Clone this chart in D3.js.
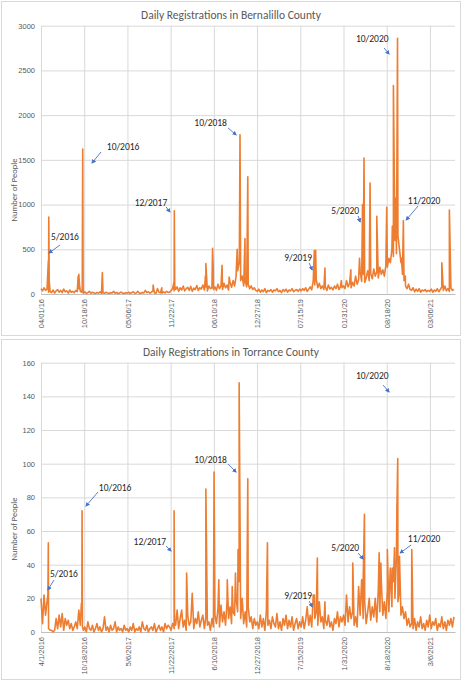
<!DOCTYPE html>
<html>
<head>
<meta charset="utf-8">
<script src="https://cdn.jsdelivr.net/npm/d3@7"></script>
<style>
  body { margin: 0; background: #fff; }
  svg { display: block; font-family: Carlito, Lato, "Open Sans", sans-serif; }
</style>
</head>
<body>
<svg id="chart" width="463" height="680"></svg>
<script>
// ---- data ----
var START_DATE = "2016-04-01";
var END_DATE = "2021-06-30";

var bernalilloTitle = "Daily Registrations in Bernalillo County";
var torranceTitle = "Daily Registrations in Torrance County";

var bernalilloTicks = ["04/01/16", "10/18/16", "05/06/17", "11/22/17", "06/10/18", "12/27/18", "07/15/19", "01/31/20", "08/18/20", "03/06/21"];
var torranceTicks = ["4/1/2016", "10/18/2016", "5/6/2017", "11/22/2017", "6/10/2018", "12/27/2018", "7/15/2019", "1/31/2020", "8/18/2020", "3/6/2021"];

var bernalilloYTicks = [0, 500, 1000, 1500, 2000, 2500, 3000];
var torranceYTicks = [0, 20, 40, 60, 80, 100, 120, 140, 160];

// background level, one reading per week from 4/1/2016
var bernalilloWeekly = [
  60, 35, 70, 40, 55, 20, 30,
  15, 45, 10, 35, 50, 20, 40, 15, 55, 25, 35, 10, 45, 20, 30, 15, 40, 25,
  60, 30, 20,
  10, 25, 5, 15, 30, 8, 20, 12, 5, 18, 10, 25, 6, 15, 8, 20, 10, 5, 15, 12, 30, 8, 18, 5, 12, 22, 10, 6, 15,
  10, 20, 5, 15, 25, 8, 12, 30, 10, 6, 18, 12, 40, 15, 25, 10, 20, 35, 12, 8, 60, 20, 15, 10, 25, 12, 30, 18,
  20, 40, 60, 35,
  50, 80, 30, 70, 45, 90, 35, 60, 75, 40, 85, 30, 65, 50, 95, 40, 70, 55, 100, 45, 80, 35, 90, 60, 70, 50,
  80, 40, 110, 60, 90, 50, 120, 70, 100, 45, 130, 75, 150, 90, 200, 260,
  350, 150, 200, 90, 140, 80, 110, 60, 90, 50, 70, 40,
  30, 55, 20, 45, 25, 60, 15, 40, 30, 50, 20, 45, 35, 60, 25, 40, 15, 50, 30, 55, 20, 45, 35, 60, 25, 40, 50, 30, 55,
  35, 60, 40, 70, 30, 55, 80, 45, 150, 100, 160, 70, 120, 60, 90, 50, 80, 40, 100, 55, 75, 45, 90, 60, 110, 50, 85, 70,
  90, 60, 150, 80, 120, 70, 130, 90, 200, 110, 160, 250, 140, 220, 130, 180, 260, 150, 230, 170, 280, 200, 250, 180, 300, 220, 270, 200, 320,
  300, 400, 350, 500, 420, 600, 450, 650, 500, 350, 220, 150,
  90, 60, 110, 50,
  40, 70, 25, 55, 30, 60, 20, 45, 35, 50, 25, 40, 30, 55, 20, 45, 30, 60, 25, 50, 80, 40, 90, 35, 60, 30, 70, 40, 50
];

// single days that stand out
var bernalilloPeaks = [
  ["2016-05-05", 370], ["2016-05-07", 860], ["2016-05-09", 150],
  ["2016-09-20", 200], ["2016-09-23", 220], ["2016-09-26", 110],
  ["2016-10-09", 80], ["2016-10-11", 1620], ["2016-10-13", 40],
  ["2017-01-10", 240], ["2017-09-02", 100], ["2017-10-12", 70],
  ["2017-12-07", 130], ["2017-12-09", 930], ["2017-12-11", 90],
  ["2018-05-02", 200], ["2018-05-04", 340],
  ["2018-06-04", 510], ["2018-06-07", 300],
  ["2018-07-18", 320], ["2018-08-20", 190],
  ["2018-09-22", 270], ["2018-09-26", 500], ["2018-10-06", 420], ["2018-10-09", 1780],
  ["2018-11-01", 620], ["2018-11-14", 1310],
  ["2019-09-18", 485], ["2019-09-24", 490], ["2019-11-06", 290],
  ["2020-01-21", 150], ["2020-03-05", 270],
  ["2020-04-14", 400], ["2020-04-28", 1000], ["2020-05-05", 1520],
  ["2020-06-02", 1240], ["2020-07-03", 870], ["2020-08-18", 970],
  ["2020-09-13", 760], ["2020-09-18", 2330], ["2020-09-29", 1070],
  ["2020-10-07", 2860], ["2020-10-25", 400], ["2020-11-03", 820], ["2020-11-12", 200],
  ["2021-04-30", 350], ["2021-06-04", 940]
];

var torranceWeekly = [
  20, 5, 22, 10, 18, 2, 1,
  1, 0, 1, 8, 2, 10, 3, 11, 1, 8, 4, 7, 2, 5, 1, 3, 6, 2,
  13, 4, 10,
  1, 3, 0, 6, 2, 1, 4, 0, 2, 5, 1, 3, 0, 2, 9, 1, 3, 0, 4, 1, 2, 6, 0, 3, 1, 2, 0, 4, 1,
  2, 0, 3, 1, 5, 0, 2, 1, 3, 0, 6, 2, 1, 4, 0, 2, 3, 1, 5, 0, 2, 4, 1, 3, 0, 5, 2, 4,
  3, 1, 5, 2,
  4, 13, 2, 8, 13, 3, 7, 1, 10, 4, 6, 23, 2, 8, 5, 12, 3, 7, 10, 2, 9, 4, 6, 1, 8, 3,
  10, 5, 14, 3, 16, 6, 12, 4, 18, 8, 15, 5, 12, 10, 20, 12,
  30, 8, 20, 5, 12, 3, 15, 6, 9, 2, 8, 4,
  6, 2, 10, 3, 8, 1, 12, 4, 7, 2, 9, 5, 3, 11, 2, 6, 1, 8, 4, 10, 2, 7, 3, 9, 1, 5, 8, 2, 6,
  3, 9, 2, 7, 15, 4, 10, 3, 22, 8, 12, 4, 18, 6, 9, 2, 7, 4, 10, 3, 6, 1, 8, 5, 12, 3, 9, 6,
  10, 4, 22, 6, 15, 8, 12, 4, 9, 3, 27, 10, 31, 8, 18, 5, 12, 20, 7, 15, 9, 20, 6, 25, 12, 30, 10, 18, 8,
  25, 12, 38, 15, 30, 20, 45, 18, 25, 10, 15, 8,
  12, 4, 8, 3,
  5, 2, 8, 1, 6, 3, 9, 2, 5, 1, 7, 3, 10, 2, 6, 4, 8, 1, 5, 3, 9, 2, 6, 1, 7, 4, 8, 3, 9
];

var torrancePeaks = [
  ["2016-05-03", 22], ["2016-05-05", 53], ["2016-05-07", 2],
  ["2016-10-05", 17], ["2016-10-08", 72], ["2016-10-10", 3],
  ["2017-12-06", 4], ["2017-12-08", 72], ["2017-12-10", 5],
  ["2018-02-04", 35], ["2018-05-04", 85], ["2018-06-11", 95],
  ["2018-07-03", 31], ["2018-08-11", 31], ["2018-09-03", 27],
  ["2018-09-18", 35], ["2018-09-30", 49], ["2018-10-05", 148],
  ["2018-11-14", 91], ["2019-02-13", 53],
  ["2019-09-18", 22], ["2019-10-02", 44], ["2019-11-06", 18],
  ["2020-03-14", 41],
  ["2020-04-26", 27], ["2020-05-01", 31], ["2020-05-07", 70],
  ["2020-07-14", 47], ["2020-07-22", 41], ["2020-08-21", 49],
  ["2020-09-03", 37], ["2020-09-13", 38], ["2020-09-23", 50],
  ["2020-10-04", 72], ["2020-10-08", 103], ["2020-10-16", 45],
  ["2020-12-12", 49]
];

// callouts: label, text anchor (date, value), arrow from, arrow to
var bernalilloNotes = [
  ["5/2016",  ["2016-07-21", 604],  ["2016-06-28", 548],  ["2016-05-08", 458]],
  ["10/2016", ["2017-04-16", 1610], ["2017-01-04", 1588], ["2016-11-23", 1465]],
  ["12/2017", ["2017-08-23", 984],  ["2017-11-01", 973],  ["2017-11-19", 917]],
  ["10/2018", ["2018-05-26", 1878], ["2018-08-15", 1856], ["2018-09-21", 1778]],
  ["9/2019",  ["2019-07-05", 369],  ["2019-08-25", 347],  ["2019-09-08", 268]],
  ["5/2020",  ["2020-02-08", 894],  ["2020-04-08", 872],  ["2020-04-17", 805]],
  ["10/2020", ["2020-06-12", 2817], ["2020-08-06", 2750], ["2020-08-29", 2683]],
  ["11/2020", ["2021-02-07", 1006], ["2021-01-10", 984],  ["2020-11-16", 827]]
];

var torranceNotes = [
  ["5/2016",  ["2016-07-16", 32.7], ["2016-05-31", 30.9], ["2016-05-03", 25]],
  ["10/2016", ["2017-03-10", 83.8], ["2016-12-21", 83.2], ["2016-10-26", 74.8]],
  ["12/2017", ["2017-08-18", 51.7], ["2017-11-01", 51.1], ["2017-11-24", 48.1]],
  ["10/2018", ["2018-05-26", 100.4], ["2018-08-15", 99.8], ["2018-09-21", 95]],
  ["9/2019",  ["2019-07-05", 19.6], ["2019-08-25", 18.4], ["2019-09-08", 14.9]],
  ["5/2020",  ["2020-02-08", 48.1], ["2020-04-08", 46.9], ["2020-05-01", 43.4]],
  ["10/2020", ["2020-06-12", 150.3], ["2020-08-01", 146.7], ["2020-08-29", 142.6]],
  ["11/2020", ["2021-02-07", 53.5], ["2020-12-09", 51.7], ["2020-10-19", 46.9]]
];

// ---- drawing ----
var parseDay = d3.timeParse("%Y-%m-%d");
var startDay = parseDay(START_DATE);
var svg = d3.select("#chart");

var defs = svg.append("defs");
defs.append("marker")
  .attr("id", "arrow")
  .attr("viewBox", "0 0 10 10")
  .attr("refX", 8).attr("refY", 5)
  .attr("markerWidth", 5).attr("markerHeight", 5)
  .attr("orient", "auto")
  .append("path")
  .attr("d", "M0,0 L10,5 L0,10 z")
  .attr("fill", "#4472C4");

function buildSeries(weekly, peaks){
  var pts = weekly.map(function(v, i){
    return {date: d3.timeDay.offset(startDay, i * 7), value: v};
  });
  peaks.forEach(function(p){
    pts.push({date: parseDay(p[0]), value: p[1]});
  });
  pts.sort(function(a, b){ return a.date - b.date; });
  return pts;
}

function drawPanel(cfg){
  var g = svg.append("g");
  // frame
  g.append("rect")
    .attr("x", 1.5).attr("y", cfg.boxTop + 0.5)
    .attr("width", 459).attr("height", cfg.boxHeight)
    .attr("fill", "#fff").attr("stroke", "#D9D9D9");

  var x = d3.scaleTime()
    .domain([parseDay(START_DATE), parseDay(END_DATE)])
    .range([41, 455]);
  var y = d3.scaleLinear()
    .domain([0, cfg.yTicks[cfg.yTicks.length - 1]])
    .range([cfg.bottom, cfg.top]);

  // y grid + labels
  var yAxis = g.append("g")
    .attr("transform", "translate(41,0)")
    .call(d3.axisLeft(y).tickValues(cfg.yTicks).tickFormat(d3.format("d"))
      .tickSize(-414).tickPadding(6));
  yAxis.select(".domain").remove();
  yAxis.selectAll("line").attr("stroke", "#D9D9D9");
  yAxis.selectAll("text").attr("fill", "#595959").style("font-size", "7.5px");

  // x grid + labels
  var tickDates = cfg.xTicks.map(function(t){ return cfg.parseTick(t); });
  var xAxis = g.append("g")
    .attr("transform", "translate(0," + cfg.bottom + ")")
    .call(d3.axisBottom(x).tickValues(tickDates)
      .tickFormat(function(d, i){ return cfg.xTicks[i]; })
      .tickSize(-(cfg.bottom - cfg.top)).tickSizeOuter(0));
  xAxis.select(".domain").attr("stroke", "#BFBFBF");
  xAxis.selectAll("line").attr("stroke", "#D9D9D9");
  xAxis.selectAll("text")
    .attr("fill", "#595959")
    .style("font-size", "7.5px")
    .attr("text-anchor", "end")
    .attr("transform", "rotate(-90)")
    .attr("x", -5).attr("y", 0).attr("dy", "0.35em");

  // series
  var series = buildSeries(cfg.weekly, cfg.peaks);
  var line = d3.line()
    .x(function(d){ return x(d.date); })
    .y(function(d){ return y(d.value); });
  g.append("path")
    .datum(series)
    .attr("d", line)
    .attr("fill", "none")
    .attr("stroke", "#ED7D31")
    .attr("stroke-width", 1.6)
    .attr("stroke-linejoin", "round");

  // title
  g.append("text")
    .attr("x", 231).attr("y", cfg.titleY)
    .attr("text-anchor", "middle")
    .attr("fill", "#595959")
    .style("font-size", "11.5px")
    .text(cfg.title);

  // y axis title
  g.append("text")
    .attr("transform", "translate(14," + cfg.yTitleY + ") rotate(-90)")
    .attr("text-anchor", "middle")
    .attr("dy", "0.35em")
    .attr("fill", "#595959")
    .style("font-size", "8.5px")
    .text("Number of People");

  // callouts
  cfg.notes.forEach(function(n){
    g.append("line")
      .attr("x1", x(parseDay(n[2][0]))).attr("y1", y(n[2][1]))
      .attr("x2", x(parseDay(n[3][0]))).attr("y2", y(n[3][1]))
      .attr("stroke", "#4472C4").attr("stroke-width", 0.9)
      .attr("marker-end", "url(#arrow)");
    g.append("text")
      .attr("x", x(parseDay(n[1][0]))).attr("y", y(n[1][1]))
      .attr("text-anchor", "middle")
      .attr("fill", "#262626")
      .style("font-size", "9.5px")
      .text(n[0]);
  });
}

drawPanel({
  boxTop: 1, boxHeight: 334, top: 25.7, bottom: 294, titleY: 19, yTitleY: 190,
  title: bernalilloTitle, xTicks: bernalilloTicks, yTicks: bernalilloYTicks,
  parseTick: d3.timeParse("%m/%d/%y"),
  weekly: bernalilloWeekly, peaks: bernalilloPeaks, notes: bernalilloNotes
});
drawPanel({
  boxTop: 339, boxHeight: 340, top: 362.7, bottom: 632, titleY: 356, yTitleY: 529,
  title: torranceTitle, xTicks: torranceTicks, yTicks: torranceYTicks,
  parseTick: d3.timeParse("%m/%d/%Y"),
  weekly: torranceWeekly, peaks: torrancePeaks, notes: torranceNotes
});
</script>
</body>
</html>
